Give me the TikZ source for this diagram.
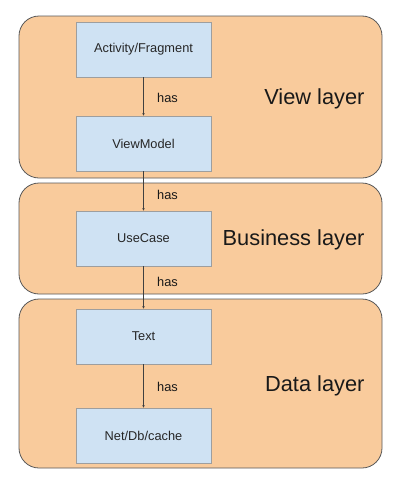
\documentclass[tikz,border=0pt]{standalone}
\usepackage{fontspec}
\setmainfont{Liberation Sans}
\usetikzlibrary{arrows.meta}
\definecolor{layerfill}{HTML}{F9CB9C}
\definecolor{layerdraw}{HTML}{595959}
\definecolor{boxfill}{HTML}{CFE2F3}
\definecolor{boxdraw}{HTML}{9E9E9E}
\begin{document}
\begin{tikzpicture}[x=1pt,y=-1pt,
  layer/.style={draw=layerdraw,fill=layerfill,line width=0.8pt,rounded corners=20pt},
  compbox/.style={draw=boxdraw,fill=boxfill,line width=0.8pt,minimum width=135pt,minimum height=55pt,inner sep=0pt,font=\fontsize{12.8}{14}\selectfont,text=black!85},
  layertext/.style={anchor=east,font=\fontsize{21.8}{24}\selectfont,text=black!90},
  haslabel/.style={font=\fontsize{12.8}{14}\selectfont,text=black!90},
  conn/.style={draw=black!75,line width=0.6pt,-{Stealth[length=2.5pt,width=2.5pt]}}]
\useasboundingbox (0,0) rectangle (400,482);
\fill[white] (0,0) rectangle (400,482);
\draw[layer] (19,16) rectangle (382,178);
\draw[layer] (19,183) rectangle (382,294);
\draw[layer] (19,299) rectangle (382,468);
\node[compbox] (af) at (143.5,49.5) {Activity/Fragment};
\node[compbox] (vm) at (143.5,143.5) {ViewModel};
\node[compbox] (uc) at (143.5,238.5) {UseCase};
\node[compbox] (tx) at (143.5,336.5) {Text};
\node[compbox] (nd) at (143.5,435.5) {Net/Db/cache};
\node[layertext] (vl) at (368,99) {View layer};
\node[layertext] (bl) at (368,240) {Business layer};
\node[layertext] (dl) at (368,386) {Data layer};
\draw[conn] (af) -- (vm) node[haslabel,pos=0.53,right=10pt] (h1) {has};
\draw[conn] (vm) -- (uc) node[haslabel,pos=0.6,right=10pt] (h2) {has};
\draw[conn] (uc) -- (tx) node[haslabel,pos=0.37,right=10pt] (h3) {has};
\draw[conn] (tx) -- (nd) node[haslabel,pos=0.53,right=10pt] (h4) {has};
\end{tikzpicture}
\end{document}
